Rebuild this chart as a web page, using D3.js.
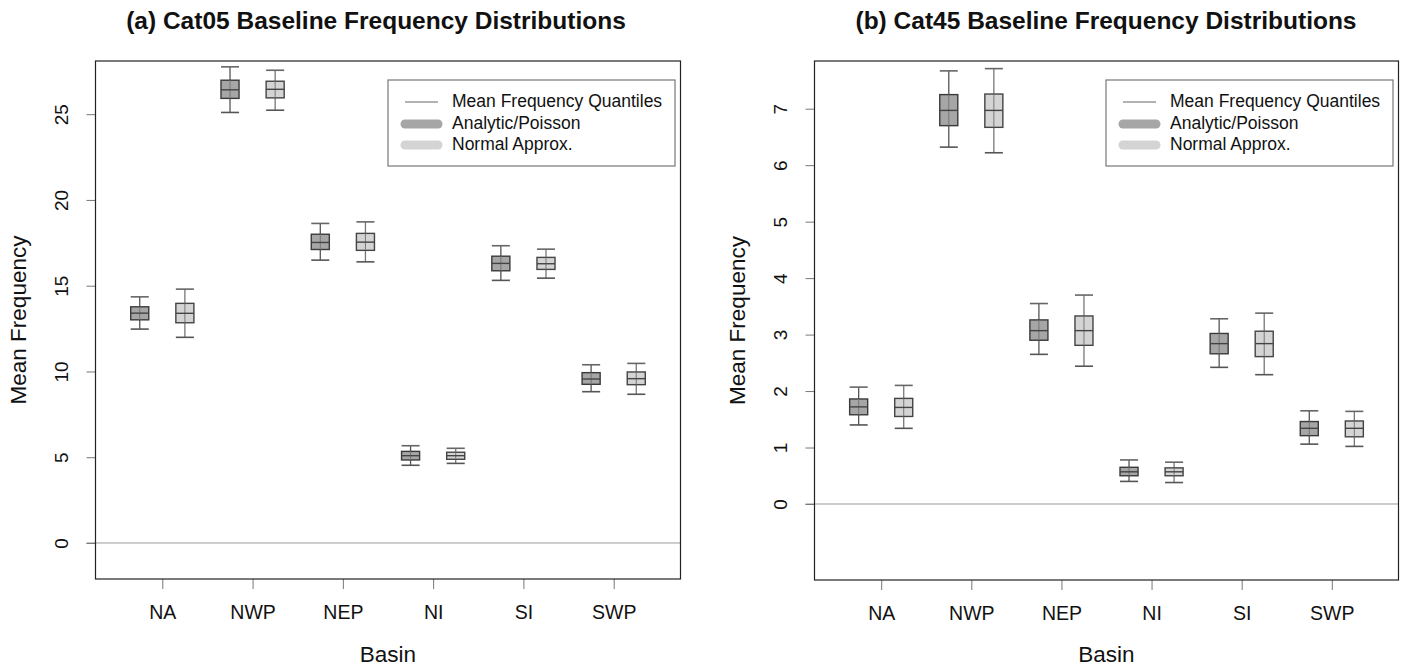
<!DOCTYPE html>
<html>
<head>
<meta charset="utf-8">
<script src="https://cdn.jsdelivr.net/npm/d3@7"></script>
<style>
  html, body { margin: 0; padding: 0; background: #fff; }
  svg { display: block; font-family: "Liberation Sans", Arial, sans-serif; }
</style>
</head>
<body>
<svg id="chart" width="1402" height="667"></svg>
<script>
// ---------------- DATA ----------------
const basins = ["NA", "NWP", "NEP", "NI", "SI", "SWP"];
const legendLabels = ["Mean Frequency Quantiles", "Analytic/Poisson", "Normal Approx."];

// quantiles per basin: [lowWhisker, q1, median, q3, highWhisker]
const cat05Analytic = [
  [12.47, 13.01, 13.40, 13.77, 14.35],
  [25.10, 25.92, 26.42, 26.98, 27.76],
  [16.49, 17.11, 17.52, 18.00, 18.63],
  [4.53, 4.84, 5.09, 5.34, 5.67],
  [15.31, 15.87, 16.30, 16.72, 17.33],
  [8.82, 9.25, 9.56, 9.93, 10.39]
];
const cat05Normal = [
  [11.99, 12.84, 13.39, 13.97, 14.80],
  [25.23, 25.95, 26.45, 26.92, 27.56],
  [16.39, 17.06, 17.54, 18.05, 18.72],
  [4.64, 4.88, 5.09, 5.29, 5.52],
  [15.44, 15.95, 16.28, 16.65, 17.13],
  [8.67, 9.23, 9.58, 9.97, 10.47]
];
const cat45Analytic = [
  [1.40, 1.58, 1.72, 1.86, 2.07],
  [6.32, 6.70, 6.97, 7.25, 7.67],
  [2.65, 2.90, 3.07, 3.26, 3.55],
  [0.40, 0.50, 0.57, 0.65, 0.78],
  [2.42, 2.66, 2.84, 3.02, 3.28],
  [1.06, 1.21, 1.34, 1.46, 1.65]
];
const cat45Normal = [
  [1.34, 1.55, 1.71, 1.87, 2.10],
  [6.22, 6.67, 6.97, 7.26, 7.71],
  [2.44, 2.81, 3.07, 3.33, 3.70],
  [0.38, 0.50, 0.57, 0.64, 0.74],
  [2.29, 2.61, 2.84, 3.06, 3.38],
  [1.02, 1.19, 1.34, 1.47, 1.64]
];
const cat05Ticks = [0, 5, 10, 15, 20, 25];
const cat45Ticks = [0, 1, 2, 3, 4, 5, 6, 7];

// ---------------- DRAWING ----------------
const svg = d3.select("#chart");
const colAnalytic = "#a6a6a6";
const colNormal = "#d4d4d4";

function drawPanel(cfg) {
  const g = svg.append("g");
  const x = d3.scaleLinear().domain([0.26, 6.74]).range([cfg.left, cfg.right]);
  const y = d3.scaleLinear().domain(cfg.yDomain).range([cfg.bottom, cfg.top]);

  // title
  g.append("text")
    .attr("x", cfg.titleX).attr("y", 29)
    .attr("text-anchor", "middle")
    .attr("font-size", 24.5).attr("font-weight", "bold").attr("fill", "#111")
    .text(cfg.title);

  // zero reference line
  g.append("line")
    .attr("x1", cfg.left - 9).attr("x2", cfg.right)
    .attr("y1", y(0)).attr("y2", y(0))
    .attr("stroke", "#9a9a9a").attr("stroke-width", 1);

  // y axis
  const yAxis = d3.axisLeft(y).tickValues(cfg.yTicks).tickSize(9).tickPadding(0).tickFormat(d3.format("d"));
  const ya = g.append("g").attr("transform", `translate(${cfg.left},0)`).call(yAxis);
  ya.select(".domain").remove();
  ya.selectAll(".tick line").attr("stroke", "#777");
  ya.selectAll(".tick text")
    .attr("font-size", 19).attr("fill", "#111")
    .attr("font-family", "Liberation Sans, Arial, sans-serif")
    .attr("text-anchor", "middle")
    .attr("x", null).attr("dy", null)
    .attr("transform", `translate(-33,0) rotate(-90)`)
    .attr("dominant-baseline", "middle");

  // x axis
  const xAxis = d3.axisBottom(x).tickValues(d3.range(1, basins.length + 1)).tickSize(10).tickPadding(16)
    .tickFormat(i => basins[i - 1]);
  const xa = g.append("g").attr("transform", `translate(0,${cfg.bottom})`).call(xAxis);
  xa.select(".domain").remove();
  xa.selectAll(".tick line").attr("stroke", "#777");
  xa.selectAll(".tick text").attr("font-size", 19.5).attr("fill", "#111")
    .attr("font-family", "Liberation Sans, Arial, sans-serif");

  // axis titles
  g.append("text")
    .attr("x", (cfg.left + cfg.right) / 2).attr("y", 662)
    .attr("text-anchor", "middle").attr("font-size", 22.5).attr("fill", "#111")
    .text("Basin");
  g.append("text")
    .attr("transform", `translate(${cfg.left - 75},${(cfg.top + cfg.bottom) / 2}) rotate(-90)`)
    .attr("text-anchor", "middle").attr("dominant-baseline", "middle")
    .attr("font-size", 22.5).attr("fill", "#111")
    .text("Mean Frequency");

  // boxes
  const boxW = x(1.1) - x(1);
  const series = [
    { data: cfg.analytic, off: -0.25, fill: colAnalytic, stroke: "#3a3a3a", whisk: "#555" },
    { data: cfg.normal, off: 0.25, fill: colNormal, stroke: "#444", whisk: "#777" }
  ];
  series.forEach(s => {
    const grp = g.append("g");
    s.data.forEach((q, i) => {
      const cx = x(i + 1 + s.off);
      const b = grp.append("g");
      b.append("line").attr("x1", cx).attr("x2", cx).attr("y1", y(q[0])).attr("y2", y(q[4]))
        .attr("stroke", s.whisk).attr("stroke-width", 1.3);
      b.append("line").attr("x1", cx - boxW).attr("x2", cx + boxW).attr("y1", y(q[4])).attr("y2", y(q[4]))
        .attr("stroke", "#666").attr("stroke-width", 1.6);
      b.append("line").attr("x1", cx - boxW).attr("x2", cx + boxW).attr("y1", y(q[0])).attr("y2", y(q[0]))
        .attr("stroke", "#555").attr("stroke-width", 1.6);
      b.append("rect").attr("x", cx - boxW).attr("width", 2 * boxW)
        .attr("y", y(q[3])).attr("height", y(q[1]) - y(q[3]))
        .attr("fill", s.fill).attr("stroke", s.stroke).attr("stroke-width", 1.4);
      b.append("line").attr("x1", cx).attr("x2", cx).attr("y1", y(q[1])).attr("y2", y(q[3]))
        .attr("stroke", "#777").attr("stroke-width", 1);
      b.append("line").attr("x1", cx - boxW).attr("x2", cx + boxW).attr("y1", y(q[2])).attr("y2", y(q[2]))
        .attr("stroke", "#444").attr("stroke-width", 1.4);
    });
  });

  // plot frame
  g.append("rect")
    .attr("x", cfg.left).attr("y", cfg.top)
    .attr("width", cfg.right - cfg.left).attr("height", cfg.bottom - cfg.top)
    .attr("fill", "none").attr("stroke", "#222").attr("stroke-width", 1.2);

  // legend
  const lx = cfg.legendX, ly = 80, lw = 287, lh = 86;
  const lg = g.append("g");
  lg.append("rect").attr("x", lx).attr("y", ly).attr("width", lw).attr("height", lh)
    .attr("fill", "#fff").attr("stroke", "#777").attr("stroke-width", 1.2);
  const rowY = [102, 124, 145];
  const styles = [
    { color: "#9a9a9a", w: 1.3 },
    { color: colAnalytic, w: 9 },
    { color: colNormal, w: 9 }
  ];
  legendLabels.forEach((lab, i) => {
    lg.append("line")
      .attr("x1", lx + 17).attr("x2", lx + 50)
      .attr("y1", rowY[i]).attr("y2", rowY[i])
      .attr("stroke", styles[i].color).attr("stroke-width", styles[i].w)
      .attr("stroke-linecap", i === 0 ? "butt" : "round");
    lg.append("text")
      .attr("x", lx + 64).attr("y", rowY[i])
      .attr("dominant-baseline", "middle")
      .attr("font-size", 17.5).attr("fill", "#111")
      .text(lab);
  });
}

drawPanel({
  title: "(a) Cat05 Baseline Frequency Distributions",
  left: 95.5, right: 680.5, top: 61, bottom: 579,
  yDomain: [-2.1, 28.1], yTicks: cat05Ticks,
  analytic: cat05Analytic, normal: cat05Normal,
  legendX: 388, titleX: 376
});
drawPanel({
  title: "(b) Cat45 Baseline Frequency Distributions",
  left: 814.5, right: 1398.5, top: 61, bottom: 580,
  yDomain: [-1.346, 7.845], yTicks: cat45Ticks,
  analytic: cat45Analytic, normal: cat45Normal,
  legendX: 1106, titleX: 1106
});
</script>
</body>
</html>
